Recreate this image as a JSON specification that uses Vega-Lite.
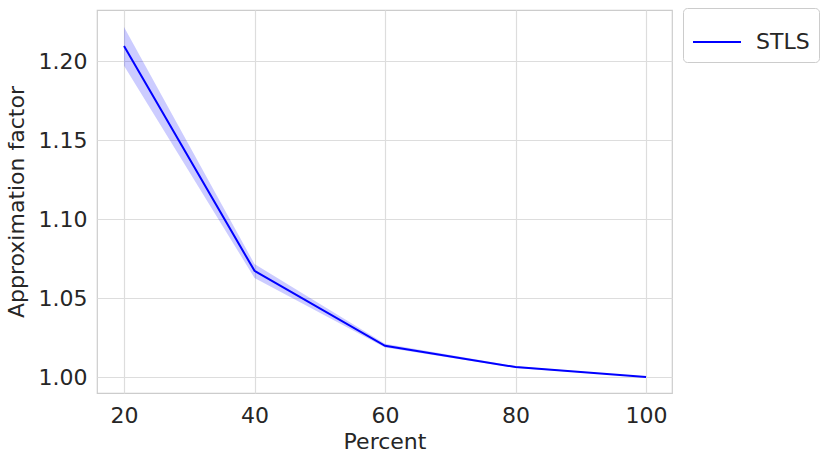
{
  "$schema": "https://vega.github.io/schema/vega-lite/v6.json",
  "width": 575,
  "height": 383,
  "autosize": {"type": "none"},
  "padding": {"left": 97, "top": 10, "right": 159, "bottom": 70},
  "background": "white",
  "config": {
    "font": "DejaVu Sans",
    "view": {"stroke": "#cccccc", "strokeWidth": 1.2},
    "axis": {
      "gridColor": "#dddddd",
      "gridWidth": 1.2,
      "domain": false,
      "ticks": false,
      "labelFontSize": 22,
      "labelColor": "#262626",
      "titleFontSize": 22,
      "titleFontWeight": "normal",
      "titleColor": "#262626"
    }
  },
  "data": {
    "values": [
      {"percent": 20, "factor": 1.2095, "lo": 1.197, "hi": 1.2215, "method": "STLS"},
      {"percent": 40, "factor": 1.0672, "lo": 1.0627, "hi": 1.0715, "method": "STLS"},
      {"percent": 60, "factor": 1.0198, "lo": 1.0187, "hi": 1.0211, "method": "STLS"},
      {"percent": 80, "factor": 1.0063, "lo": 1.0058, "hi": 1.0068, "method": "STLS"},
      {"percent": 100, "factor": 1.0, "lo": 1.0, "hi": 1.0, "method": "STLS"}
    ]
  },
  "encoding": {
    "x": {
      "field": "percent",
      "type": "quantitative",
      "scale": {"domain": [15.86, 103.98], "nice": false, "zero": false},
      "axis": {"values": [20, 40, 60, 80, 100], "title": "Percent", "labelPadding": 12, "titlePadding": 5}
    }
  },
  "layer": [
    {
      "mark": {"type": "area", "color": "blue", "opacity": 0.2},
      "encoding": {
        "y": {"field": "lo", "type": "quantitative"},
        "y2": {"field": "hi"}
      }
    },
    {
      "mark": {"type": "line", "strokeWidth": 2},
      "encoding": {
        "y": {
          "field": "factor",
          "type": "quantitative",
          "scale": {"domain": [0.9899, 1.2323], "nice": false, "zero": false},
          "axis": {"values": [1.0, 1.05, 1.1, 1.15, 1.2], "format": ".2f", "title": "Approximation factor", "labelPadding": 10, "titlePadding": 10}
        },
        "color": {
          "field": "method",
          "type": "nominal",
          "scale": {"range": ["blue"]},
          "legend": {
            "title": null,
            "orient": "none",
            "legendX": 586,
            "legendY": -2,
            "symbolType": "stroke",
            "symbolSize": 2304,
            "symbolStrokeWidth": 2,
            "labelFontSize": 22,
            "labelColor": "#262626",
            "labelOffset": 14,
            "strokeColor": "#cccccc",
            "cornerRadius": 4,
            "padding": 9,
            "fillColor": "white"
          }
        }
      }
    }
  ]
}
